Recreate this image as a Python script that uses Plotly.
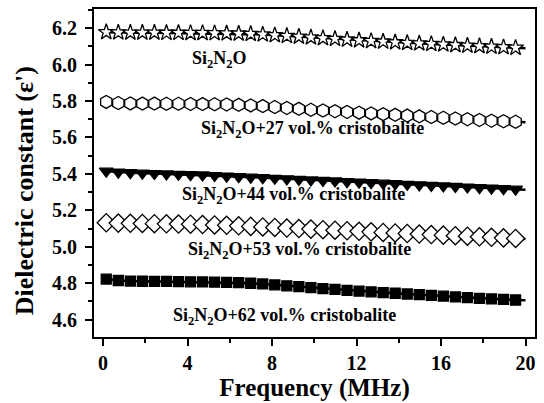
import plotly.graph_objects as go

# Frequency sweep (MHz); the last point closes the curve at 20 MHz without a symbol
freq = [0.15, 0.72, 1.29, 1.86, 2.43, 3.00, 3.57, 4.14, 4.71, 5.28, 5.85, 6.42,
        6.99, 7.56, 8.13, 8.70, 9.27, 9.84, 10.41, 10.98, 11.55, 12.12, 12.69,
        13.26, 13.83, 14.40, 14.97, 15.54, 16.11, 16.68, 17.25, 17.82, 18.39,
        18.96, 19.53, 20.0]

eps_0 = [6.178, 6.176, 6.175, 6.175, 6.175, 6.174, 6.174, 6.173, 6.173, 6.172,
         6.171, 6.170, 6.168, 6.165, 6.161, 6.157, 6.153, 6.149, 6.145, 6.141,
         6.137, 6.133, 6.129, 6.126, 6.122, 6.119, 6.116, 6.113, 6.110, 6.107,
         6.104, 6.101, 6.098, 6.095, 6.092, 6.090]
eps_27 = [5.795, 5.789, 5.787, 5.786, 5.786, 5.785, 5.785, 5.784, 5.783, 5.782,
          5.781, 5.779, 5.776, 5.772, 5.767, 5.762, 5.757, 5.752, 5.748, 5.744,
          5.740, 5.736, 5.732, 5.728, 5.724, 5.720, 5.716, 5.712, 5.708, 5.704,
          5.700, 5.696, 5.692, 5.689, 5.686, 5.684]
eps_44 = [5.415, 5.410, 5.407, 5.404, 5.402, 5.400, 5.398, 5.396, 5.394, 5.391,
          5.388, 5.385, 5.382, 5.379, 5.376, 5.373, 5.370, 5.367, 5.364, 5.361,
          5.358, 5.355, 5.352, 5.349, 5.346, 5.343, 5.340, 5.337, 5.334, 5.331,
          5.328, 5.325, 5.322, 5.319, 5.316, 5.313]
eps_53 = [5.132, 5.130, 5.129, 5.128, 5.127, 5.126, 5.125, 5.124, 5.122, 5.120,
          5.118, 5.115, 5.112, 5.109, 5.106, 5.103, 5.100, 5.097, 5.094, 5.091,
          5.088, 5.085, 5.082, 5.079, 5.076, 5.073, 5.070, 5.067, 5.064, 5.061,
          5.058, 5.055, 5.052, 5.049, 5.046, 5.043]
eps_62 = [4.823, 4.815, 4.812, 4.811, 4.810, 4.810, 4.809, 4.808, 4.807, 4.806,
          4.805, 4.803, 4.800, 4.796, 4.791, 4.786, 4.781, 4.776, 4.771, 4.766,
          4.761, 4.757, 4.753, 4.749, 4.745, 4.741, 4.737, 4.733, 4.729, 4.725,
          4.721, 4.717, 4.714, 4.711, 4.708, 4.706]

labels = ["Si<sub>2</sub>N<sub>2</sub>O",
          "Si<sub>2</sub>N<sub>2</sub>O+27 vol.% cristobalite",
          "Si<sub>2</sub>N<sub>2</sub>O+44 vol.% cristobalite",
          "Si<sub>2</sub>N<sub>2</sub>O+53 vol.% cristobalite",
          "Si<sub>2</sub>N<sub>2</sub>O+62 vol.% cristobalite"]
label_x = [5.5, 9.9, 9.0, 9.3, 8.6]
label_y = [6.03, 5.645, 5.282, 4.982, 4.618]

y_ticks = [4.6, 4.8, 5.0, 5.2, 5.4, 5.6, 5.8, 6.0, 6.2]
x_ticks = [0, 4, 8, 12, 16, 20]

FONT = "Liberation Serif, Times New Roman, serif"

# (values, symbol, fill colour, size)
series = [
    (eps_0, "star", "white", 12),
    (eps_27, "hexagon", "white", 13),
    (eps_44, "triangle-down", "black", 12),
    (eps_53, "diamond", "white", 14),
    (eps_62, "square", "black", 10),
]

fig = go.Figure()
for vals, sym, fill, size in series:
    # continuous curve over the whole sweep
    fig.add_trace(go.Scatter(
        x=freq, y=vals, mode="lines",
        line=dict(color="black", width=2.5),
        showlegend=False, hoverinfo="skip",
    ))
    # symbols on the measured points (all but the 20 MHz end point)
    fig.add_trace(go.Scatter(
        x=freq[:-1], y=vals[:-1], mode="markers",
        marker=dict(symbol=sym, size=size, color=fill,
                    line=dict(color="black", width=1.3)),
        showlegend=False,
    ))

for txt, lx, ly in zip(labels, label_x, label_y):
    fig.add_annotation(x=lx, y=ly, text=txt, showarrow=False,
                       font=dict(family=FONT, size=18, color="black", weight="bold"))

# y-axis title as a rotated annotation (paper coords relative to plot area)
fig.add_annotation(xref="paper", yref="paper", x=-0.158, y=0.445,
                   xanchor="center", yanchor="middle", textangle=-90,
                   text="Dielectric constant (ε')", showarrow=False,
                   font=dict(family=FONT, size=26, color="black", weight="bold"))

axis_common = dict(
    showline=True, linecolor="black", linewidth=2, mirror=True,
    ticks="outside", ticklen=7, tickwidth=2, tickcolor="black",
    showgrid=False, zeroline=False,
    tickfont=dict(family=FONT, size=20, color="black", weight="bold"),
)

fig.update_xaxes(
    range=[-0.43, 20.45], tickvals=x_ticks,
    minor=dict(dtick=2, tick0=0, ticks="outside", ticklen=4, tickwidth=2, tickcolor="black"),
    title=dict(text="Frequency (MHz)", standoff=4,
               font=dict(family=FONT, size=25, color="black", weight="bold")),
    **axis_common,
)
fig.update_yaxes(
    range=[4.505, 6.305], tickvals=y_ticks, tickformat=".1f",
    ticklabelstandoff=4,
    minor=dict(dtick=0.1, tick0=4.5, ticks="outside", ticklen=4, tickwidth=2, tickcolor="black"),
    **axis_common,
)

fig.update_layout(
    width=544, height=403,
    margin=dict(l=94, r=7, t=7, b=66),
    paper_bgcolor="white", plot_bgcolor="white",
)

fig.write_html("out.html")
